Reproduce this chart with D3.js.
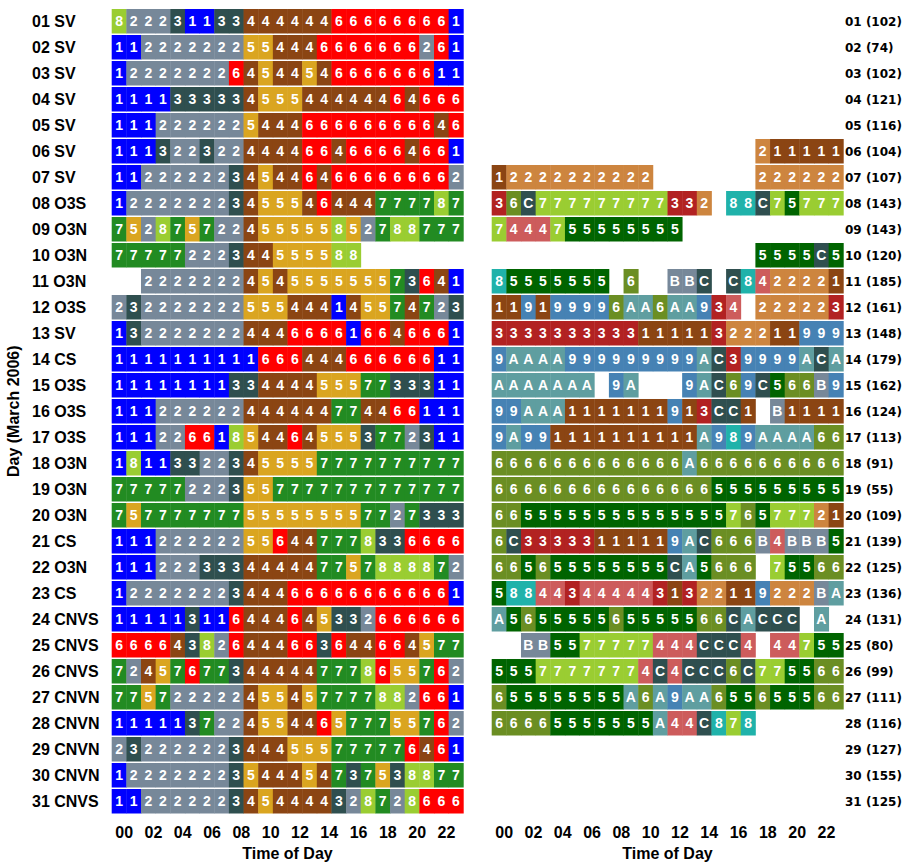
<!DOCTYPE html>
<html>
<head>
<meta charset="utf-8">
<script src="https://cdn.jsdelivr.net/npm/d3@7"></script>
<style>
  body { margin: 0; background: #fff; }
  text { font-family: "Liberation Sans", Arial, sans-serif; font-weight: bold; }
</style>
</head>
<body>
<div id="chart"></div>
<script>
(function(d3) {
  'use strict';

  var width = 909;
  var height = 863;

  // day labels (left) and counts (right)
  var dayNums = d3.range(1, 32).map(function(d) { return (d < 10 ? '0' : '') + d; });
  var regimes = ['SV','SV','SV','SV','SV','SV','SV','O3S','O3N','O3N','O3N','O3S','SV','CS','O3S',
    'O3S','O3S','O3N','O3N','O3N','CS','O3N','CS','CNVS','CNVS','CNVS','CNVN','CNVN','CNVN','CNVN','CNVS'];
  var counts = [102,74,102,121,116,104,107,143,143,120,185,161,148,179,162,124,113,91,55,109,139,125,136,
    131,80,99,111,116,127,155,125];

  var hours = d3.range(24);
  var hourTicks = [0,2,4,6,8,10,12,14,16,18,20,22];

  // hourly class per day, one character per hour, '.' = no data
  var leftRows = [
    '822231133444444666666661',
    '112222222554446666666261',
    '122222226454454666666611',
    '111133333455544444464666',
    '111222222544466666666646',
    '111322322444466466664661',
    '112222223454464666666662',
    '122222223455546444777787',
    '752875722455555852788777',
    '77777222344555588.......',
    '..2222222454555555573641',
    '232222222555444145574723',
    '132222222444666616646661',
    '111111111166644466666611',
    '111111113344445557733311',
    '111222222444444774466111',
    '111226618544645553772311',
    '181133223455557777777777',
    '777772223557777777777777',
    '757777777555555557727333',
    '111222222556447778336666',
    '111222333444447757888872',
    '122222223444666666666661',
    '111113116444645332666666',
    '666643826444663644664577',
    '724576773444447778655762',
    '775722222455457777882661',
    '111113722455446577755762',
    '232222223444555777776461',
    '122222223544454737538877',
    '112222223454444328728666'
  ];

  var rightRows = [
    '........................',
    '........................',
    '........................',
    '........................',
    '........................',
    '..................211111',
    '12222222222.......222222',
    '36C777777777332.88C75777',
    '7444755555555...........',
    '..................5555C5',
    '85555555.6..BBC.C8422221',
    '119199996AA6AA934.222223',
    '333333333311111322211999',
    '9AAAA999999999AC39999ACA',
    'AAAAAAA.9A...9AC69C566B9',
    '99AAA1111111913CC1.B1111',
    '9A991111111111A989AAAA66',
    '6666666666666A6666666666',
    '666666666666666555555555',
    '665555555555555576577721',
    '6C33333111119AC666B4BBB5',
    '665655555555CA5666.75566',
    '5884434444431322119222BA',
    'A565555565555566CACCC.A.',
    '..BB5577777444CCC4.44755',
    '55577777774C4CCC6C775566',
    '655555555A6A9AA655655566',
    '66665555555A44C878......',
    '........................',
    '........................',
    '........................'
  ];

  var leftCodes = ['1','2','3','4','5','6','7','8'];
  var leftColors = ['#0000ff','#778899','#2f4f4f','#8b4513','#daa520','#ff0000','#228b22','#9acd32'];
  var rightCodes = ['1','2','3','4','5','6','7','8','9','A','B','C'];
  var rightColors = ['#8b4513','#cd853f','#b22222','#cd5c5c','#006400','#6b8e23','#9acd32','#20b2aa',
    '#4682b4','#5f9ea0','#778899','#2f4f4f'];

  var svg = d3.select('#chart')
    .append('svg')
    .attr('width', width)
    .attr('height', height);

  var y = d3.scaleBand()
    .domain(dayNums)
    .range([9, 813.5])
    .paddingInner(0.058);

  function panel(rows, codes, colors, x0, x1) {
    var x = d3.scaleBand().domain(hours).range([x0, x1]);
    var color = d3.scaleOrdinal().domain(codes).range(colors);

    var cells = [];
    rows.forEach(function(r, i) {
      r.split('').forEach(function(c, h) {
        if (c !== '.') cells.push({ day: dayNums[i], hour: h, code: c });
      });
    });

    var g = svg.append('g');

    g.selectAll('rect')
      .data(cells)
      .enter()
      .append('rect')
      .attr('x', function(d) { return x(d.hour); })
      .attr('y', function(d) { return y(d.day); })
      .attr('width', x.bandwidth() + 0.4)
      .attr('height', y.bandwidth())
      .attr('fill', function(d) { return color(d.code); });

    g.selectAll('text.cell')
      .data(cells)
      .enter()
      .append('text')
      .attr('class', 'cell')
      .attr('x', function(d) { return x(d.hour) + x.bandwidth() / 2; })
      .attr('y', function(d) { return y(d.day) + y.bandwidth() / 2; })
      .attr('dy', '0.36em')
      .attr('text-anchor', 'middle')
      .attr('fill', '#fff')
      .style('font-size', '14px')
      .text(function(d) { return d.code; });

    // hour ticks
    g.selectAll('text.tick')
      .data(hourTicks)
      .enter()
      .append('text')
      .attr('class', 'tick')
      .attr('x', function(d) { return x(d) + x.bandwidth() * 0.85; })
      .attr('y', 838)
      .attr('text-anchor', 'middle')
      .style('font-family', '"Liberation Sans Narrow", "Liberation Sans", sans-serif')
      .style('font-size', '16px')
      .text(function(d) { return (d < 10 ? '0' : '') + d; });

    g.append('text')
      .attr('x', (x0 + x1) / 2)
      .attr('y', 859)
      .attr('text-anchor', 'middle')
      .style('font-family', '"Liberation Sans Narrow", "Liberation Sans", sans-serif')
      .style('font-size', '16px')
      .text('Time of Day');

    return x;
  }

  panel(leftRows, leftCodes, leftColors, 111.7, 463.3);
  panel(rightRows, rightCodes, rightColors, 491.7, 843.3);

  // row labels left
  svg.append('g').selectAll('text')
    .data(dayNums)
    .enter()
    .append('text')
    .attr('x', 32)
    .attr('y', function(d) { return y(d) + y.bandwidth() / 2; })
    .attr('dy', '0.36em')
    .style('font-size', '16px')
    .text(function(d, i) { return d + ' ' + regimes[i]; });

  // row labels right
  svg.append('g').selectAll('text')
    .data(dayNums)
    .enter()
    .append('text')
    .attr('x', 845)
    .attr('y', function(d) { return y(d) + y.bandwidth() / 2; })
    .attr('dy', '0.36em')
    .style('font-family', '"DejaVu Sans", sans-serif')
    .style('font-size', '12px')
    .text(function(d, i) { return d + ' (' + counts[i] + ')'; });

  svg.append('text')
    .attr('transform', 'translate(19,' + ((9 + 813.5) / 2) + ') rotate(-90)')
    .attr('text-anchor', 'middle')
    .style('font-family', '"Liberation Sans Narrow", "Liberation Sans", sans-serif')
    .style('font-size', '16px')
    .text('Day (March 2006)');

})(window.d3);
</script>
</body>
</html>
